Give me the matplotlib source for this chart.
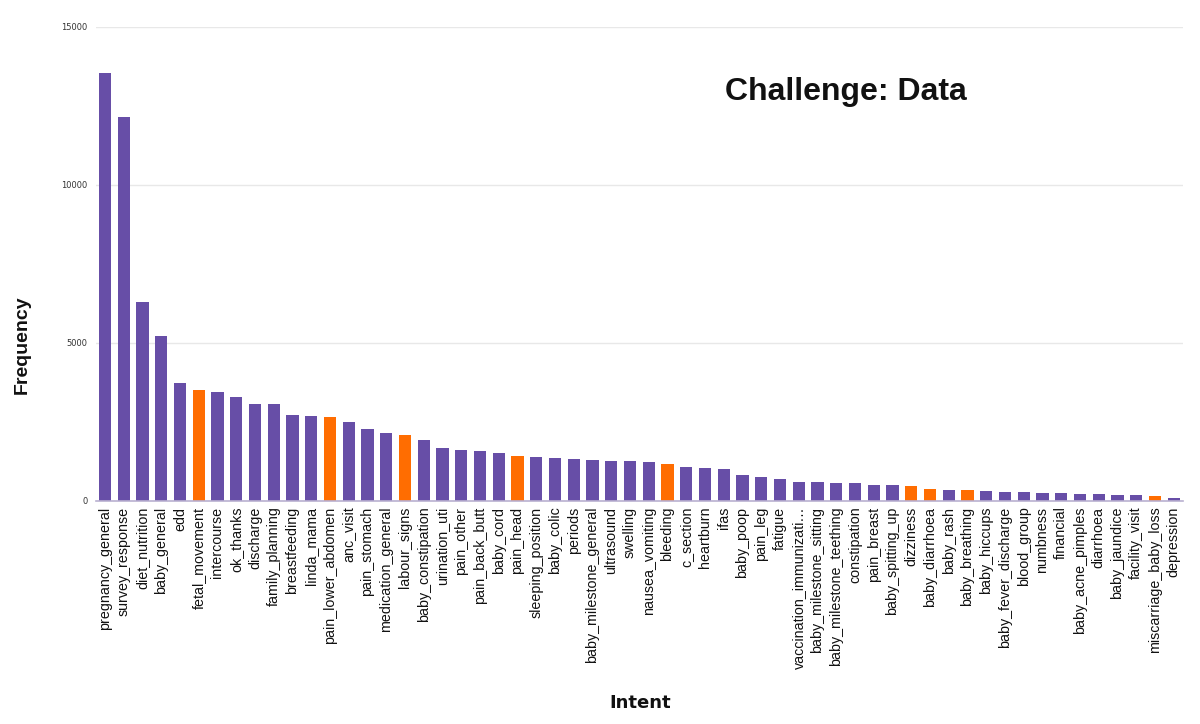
import matplotlib
matplotlib.use("Agg")
import matplotlib.pyplot as plt
from matplotlib.font_manager import findfont, FontProperties

intents = ["pregnancy_general", "survey_response", "diet_nutrition", "baby_general", "edd",
           "fetal_movement", "intercourse", "ok_thanks", "discharge", "family_planning",
           "breastfeeding", "linda_mama", "pain_lower_abdomen", "anc_visit", "pain_stomach",
           "medication_general", "labour_signs", "baby_constipation", "urination_uti", "pain_other",
           "pain_back_butt", "baby_cord", "pain_head", "sleeping_position", "baby_colic",
           "periods", "baby_milestone_general", "ultrasound", "swelling", "nausea_vomiting",
           "bleeding", "c_section", "heartburn", "ifas", "baby_poop",
           "pain_leg", "fatigue", "vaccination_immunizati\u2026", "baby_milestone_sitting", "baby_milestone_teething",
           "constipation", "pain_breast", "baby_spitting_up", "dizziness", "baby_diarrhoea",
           "baby_rash", "baby_breathing", "baby_hiccups", "baby_fever_discharge", "blood_group",
           "numbness", "financial", "baby_acne_pimples", "diarrhoea", "baby_jaundice",
           "facility_visit", "miscarriage_baby_loss", "depression"]

frequency = [13540, 12150, 6300, 5220, 3735,
             3515, 3450, 3290, 3070, 3070,
             2720, 2700, 2650, 2510, 2270,
             2165, 2080, 1920, 1667, 1625,
             1572, 1519, 1424, 1382, 1361,
             1319, 1287, 1276, 1255, 1234,
             1181, 1076, 1044, 1023, 833,
             770, 686, 601, 591, 580,
             559, 517, 517, 464, 380,
             338, 338, 316, 274, 274,
             253, 243, 222, 222, 180,
             180, 158, 105]

highlighted = ["fetal_movement", "pain_lower_abdomen", "labour_signs", "pain_head", "bleeding",
               "dizziness", "baby_diarrhoea", "baby_breathing", "miscarriage_baby_loss"]

yticks = [0, 5000, 10000, 15000]

PURPLE = "#674ea7"
ORANGE = "#ff6d01"

def pick(fams):
    for f in fams:
        try:
            findfont(FontProperties(family=f), fallback_to_default=False)
            return f
        except Exception:
            continue
    return "DejaVu Sans"

narrow = pick(["Liberation Sans Narrow", "Liberation Sans", "DejaVu Sans"])

fig = plt.figure(figsize=(12, 7.24), dpi=100)
ax = fig.add_axes([95.6 / 1200, 1 - 501 / 724, 1087.5 / 1200, 474 / 724])

colors = [ORANGE if n in highlighted else PURPLE for n in intents]
x = list(range(len(intents)))
ax.bar(x, frequency, width=0.66, color=colors, zorder=3)

ax.set_xlim(-0.5, len(intents) - 0.5)
ax.set_ylim(0, 15000)
ax.set_yticks(yticks)
ax.set_yticklabels([str(v) for v in yticks], fontsize=6, color="#333333")
ax.yaxis.grid(True, color="#e8e8e8", linewidth=1, zorder=0)
ax.tick_params(axis="y", length=0, pad=6)
ax.tick_params(axis="x", length=0, pad=4)
ax.set_xticks(x)
ax.set_xticklabels(intents, rotation=90, fontsize=10.3, family=narrow, color="#111111")

for s in ["top", "right", "left"]:
    ax.spines[s].set_visible(False)
ax.spines["bottom"].set_color("#b9b0d0")
ax.spines["bottom"].set_linewidth(1.2)
ax.spines["bottom"].set_zorder(4)

fig.text(22 / 1200, 1 - 345 / 724, "Frequency", rotation=90, ha="center", va="center",
         fontsize=14, fontweight="bold", family=narrow, color="#111111")
fig.text(640 / 1200, 1 - 703 / 724, "Intent", ha="center", va="center",
         fontsize=13, fontweight="bold", color="#111111")
fig.text(725 / 1200, 1 - 92 / 724, "Challenge: Data", ha="left", va="center",
         fontsize=23, fontweight="bold", family=narrow, color="#111111")

fig.savefig("out.png", dpi=100, facecolor="white")
